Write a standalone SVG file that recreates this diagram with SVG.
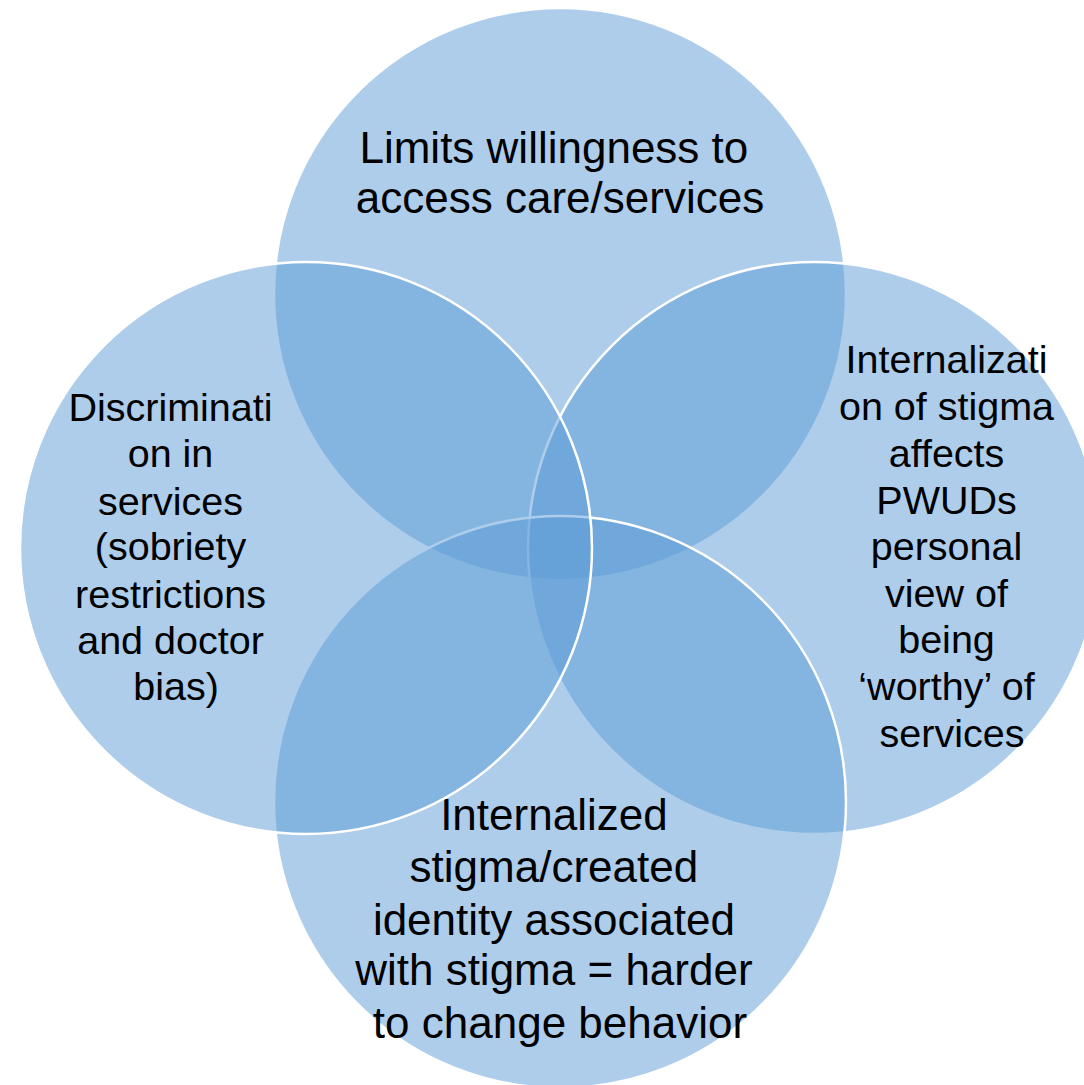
<svg xmlns="http://www.w3.org/2000/svg" width="1084" height="1085" viewBox="0 0 1084 1085">
  <style>
    .set { fill: #5B9BD5; fill-opacity: 0.5; stroke: #FFFFFF; stroke-width: 2.5; }
    .lbl { font-family: "Liberation Sans", Arial, sans-serif; fill: #000000; text-anchor: middle; }
    .big { font-size: 44px; }
    .small { font-size: 39.5px; }
  </style>
  <rect x="0" y="0" width="1084" height="1085" fill="#FFFFFF"/>

  <!-- Four overlapping sets, drawn in order so later outlines sit on top -->
  <g id="set-access">
    <circle class="set" cx="560" cy="294" r="286"/>
    <text class="lbl big">
      <tspan x="560" y="163">Limits willingness to</tspan>
      <tspan x="560" y="213">access care/services</tspan>
    </text>
  </g>

  <g id="set-internalization">
    <circle class="set" cx="814" cy="548" r="286"/>
    <text class="lbl small">
      <tspan x="952" y="373">Internalizati</tspan>
      <tspan x="952" y="420">on of stigma</tspan>
      <tspan x="952" y="467">affects</tspan>
      <tspan x="952" y="514">PWUDs</tspan>
      <tspan x="952" y="560">personal</tspan>
      <tspan x="952" y="607">view of</tspan>
      <tspan x="952" y="653">being</tspan>
      <tspan x="952" y="700">‘worthy’ of</tspan>
      <tspan x="952" y="747">services</tspan>
    </text>
  </g>

  <g id="set-identity">
    <circle class="set" cx="560" cy="802" r="286"/>
    <text class="lbl big">
      <tspan x="560" y="830">Internalized</tspan>
      <tspan x="560" y="882">stigma/created</tspan>
      <tspan x="560" y="935">identity associated</tspan>
      <tspan x="560" y="985">with stigma = harder</tspan>
      <tspan x="560" y="1038">to change behavior</tspan>
    </text>
  </g>

  <g id="set-discrimination">
    <circle class="set" cx="306" cy="548" r="286"/>
    <text class="lbl small">
      <tspan x="176" y="421">Discriminati</tspan>
      <tspan x="176" y="467">on in</tspan>
      <tspan x="176" y="515">services</tspan>
      <tspan x="176" y="560">(sobriety</tspan>
      <tspan x="176" y="608">restrictions</tspan>
      <tspan x="176" y="654">and doctor</tspan>
      <tspan x="176" y="700">bias)</tspan>
    </text>
  </g>

  <!-- No connectors in this diagram -->
  <g id="connectors"/>
</svg>
